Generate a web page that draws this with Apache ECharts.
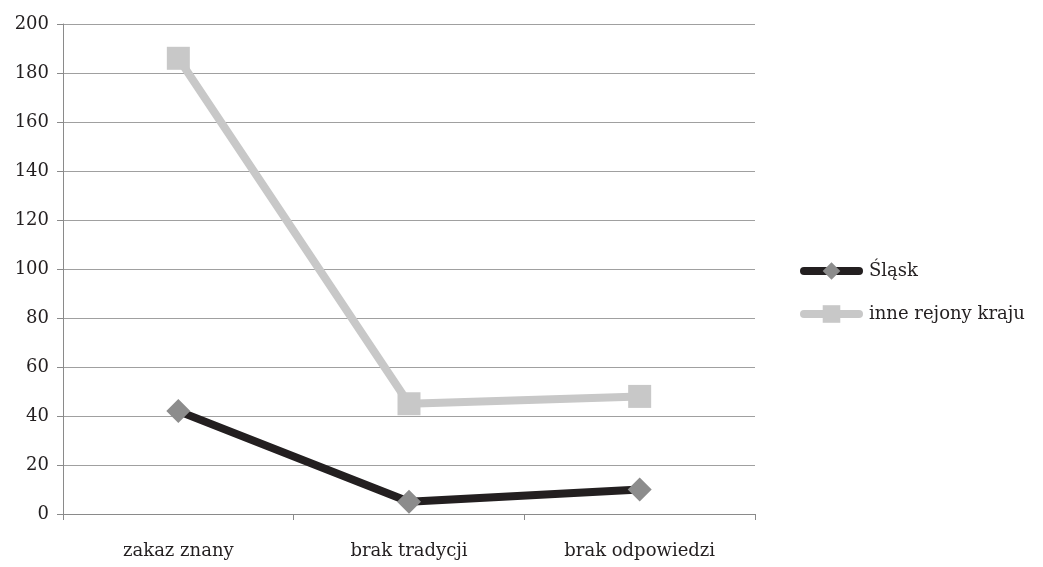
<!DOCTYPE html>
<html><head><meta charset="utf-8">
<script src="https://cdn.jsdelivr.net/npm/echarts@6/dist/echarts.min.js"></script>
<style>html,body{margin:0;padding:0;background:#fff}#c{width:1043px;height:567px}</style>
</head><body><div id="c"></div>
<script>
const categories = ['zakaz znany', 'brak tradycji', 'brak odpowiedzi'];
const slaskValues = [42, 5, 10];
const inneValues = [186, 45, 48];
const seriesNames = ['Śląsk', 'inne rejony kraju'];

const font = '"DejaVu Serif", "Liberation Serif", serif';
const chart = echarts.init(document.getElementById('c'), null, {renderer: 'canvas'});
chart.setOption({
  animation: false,
  backgroundColor: '#fff',
  textStyle: {fontFamily: font},
  grid: {left: 63, right: 288, top: 24, bottom: 53, containLabel: false},
  legend: {
    orient: 'vertical', left: 795, top: 257, itemWidth: 55, itemHeight: 22, itemGap: 25,
    textStyle: {fontFamily: font, fontSize: 18, color: '#231f20', padding: [0,0,0,5]},
    lineStyle: {width: 8, cap: 'round'},
    data: seriesNames
  },
  xAxis: {
    type: 'category', data: categories, boundaryGap: true,
    axisLine: {lineStyle: {color: '#8a8a8a', width: 1}},
    axisTick: {show: true, length: 6, lineStyle: {color: '#8a8a8a'}},
    axisLabel: {fontFamily: font, fontSize: 18, color: '#231f20', margin: 28}
  },
  yAxis: {
    type: 'value', min: 0, max: 200, interval: 20,
    axisLine: {show: true, lineStyle: {color: '#8a8a8a', width: 1}},
    axisTick: {show: true, length: 6, lineStyle: {color: '#8a8a8a'}},
    axisLabel: {fontFamily: font, fontSize: 18, color: '#231f20', margin: 14},
    splitLine: {lineStyle: {color: '#a0a0a0', width: 1}}
  },
  series: [
    {
      name: seriesNames[0], type: 'line', data: slaskValues,
      symbol: 'diamond', symbolSize: 24,
      lineStyle: {color: '#231f20', width: 8},
      itemStyle: {color: '#8c8c8c', borderWidth: 0},
      z: 3
    },
    {
      name: seriesNames[1], type: 'line', data: inneValues,
      symbol: 'rect', symbolSize: 23,
      lineStyle: {color: '#c8c8c8', width: 8},
      itemStyle: {color: '#c8c8c8', borderWidth: 0},
      z: 2
    }
  ]
});
</script></body></html>
